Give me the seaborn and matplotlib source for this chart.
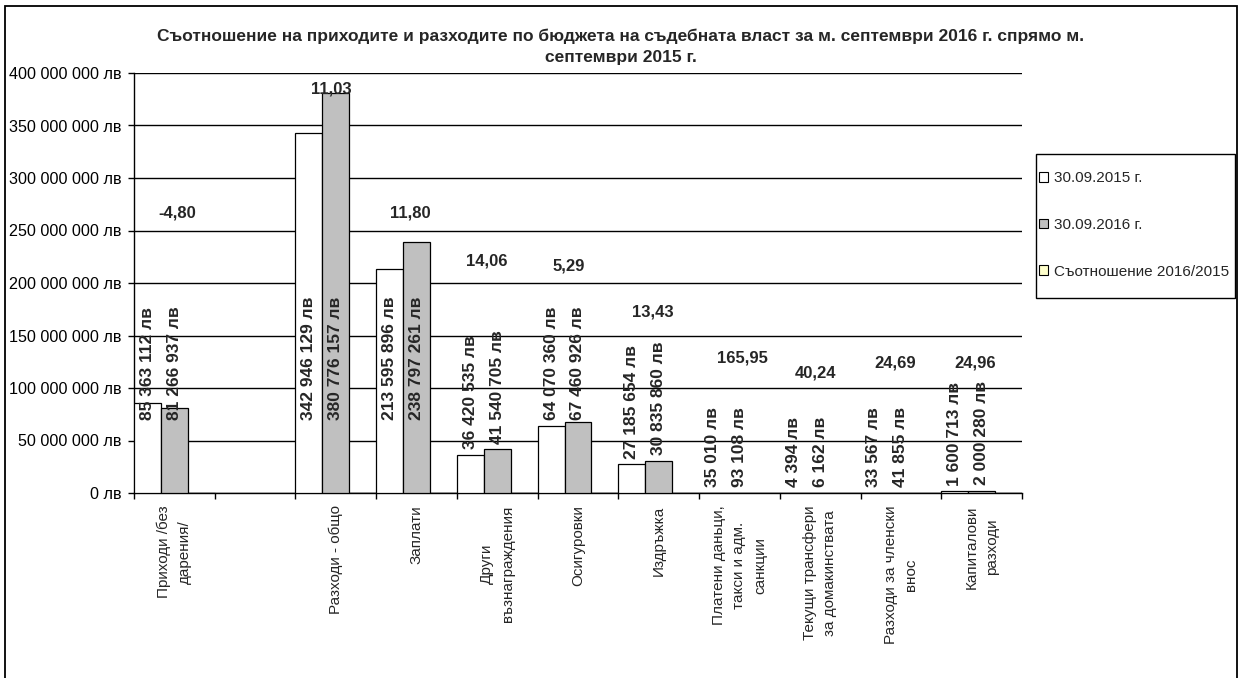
import pandas as pd
import numpy as np
import matplotlib
matplotlib.use("Agg")
import matplotlib.pyplot as plt
import seaborn as sns
from matplotlib.patches import Patch, Rectangle
from matplotlib.ticker import FuncFormatter, FixedLocator

# ---- data ----
categories = ["Приходи /без\nдарения/", " ", "Разходи - общо", "Заплати",
              "Други\nвъзнаграждения", "Осигуровки", "Издръжка",
              "Платени даньци,\nтакси и адм.\nсанкции",
              "Текущи трансфери\nза домакинствата",
              "Разходи за членски\nвнос", "Капиталови\nразходи"]
series = ["30.09.2015 г.", "30.09.2016 г.", "Съотношение 2016/2015"]
values_2015 = [85363112, None, 342946129, 213595896, 36420535, 64070360,
               27185654, 35010, 4394, 33567, 1600713]
values_2016 = [81266937, None, 380776157, 238797261, 41540705, 67460926,
               30835860, 93108, 6162, 41855, 2000280]
ratio = [-4.80, None, 11.03, 11.80, 14.06, 5.29, 13.43, 165.95, 40.24, 24.69, 24.96]

# where the ratio labels were dragged to (height in лв, shift in slot units)
ratio_label_y = [267e6, None, 385e6, 267e6, 221e6, 216e6, 172e6, 129e6, 114e6, 124e6, 124e6]
ratio_label_dx = [0.03, 0, -0.05, -0.08, -0.13, -0.12, -0.07, 0.04, -0.06, -0.07, -0.08]

title = ("Съотношение на приходите и разходите по бюджета на съдебната власт за м. септември 2016 г. спрямо м.\n"
         "септември 2015 г.")

rows = []
for cat, a, b, r in zip(categories, values_2015, values_2016, ratio):
    if a is None:
        continue
    rows.append((cat, series[0], a))
    rows.append((cat, series[1], b))
    rows.append((cat, series[2], r))
df = pd.DataFrame(rows, columns=["cat", "series", "value"])

sns.set_style("ticks")
plt.rcParams["font.family"] = ["Liberation Sans", "DejaVu Sans"]

colors = ["#FFFFFF", "#C0C0C0", "#FFFFCC"]

fig = plt.figure(figsize=(12.42, 6.78), dpi=100)
ax = fig.add_axes([134 / 1242, 1 - 493 / 678, 888 / 1242, 420 / 678])

sns.barplot(data=df, x="cat", y="value", hue="series", order=categories,
            hue_order=series, palette=colors, width=1.0, edgecolor="black",
            linewidth=0.9, saturation=1, legend=False, ax=ax, zorder=3)

ax.set_xlim(-0.5, len(categories) - 0.5)
ax.set_ylim(0, 400e6)
ax.yaxis.set_major_locator(FixedLocator(np.arange(0, 400e6 + 1, 50e6)))
ax.yaxis.set_major_formatter(FuncFormatter(lambda v, p: f"{v:,.0f}".replace(",", " ") + " лв"))
ax.yaxis.grid(True, color="black", lw=1.0)
ax.set_axisbelow(True)
ax.set_xlabel("")
ax.set_ylabel("")

for s in ["top", "right"]:
    ax.spines[s].set_visible(False)
for s in ["left", "bottom"]:
    ax.spines[s].set_color("black")
    ax.spines[s].set_linewidth(1.0)

ax.tick_params(axis="y", direction="out", length=4, width=1, color="black",
               pad=5, labelsize=11.6, labelcolor="black")
ax.set_xticks(range(len(categories)))
ax.set_xticklabels(categories, rotation=90, ha="center", va="top",
                   multialignment="center", linespacing=1.6, fontsize=11)
ax.tick_params(axis="x", which="major", length=0, pad=9)
ax.set_xticks(np.arange(-0.5, len(categories)), minor=True)
ax.tick_params(axis="x", which="minor", direction="out", length=4, width=1, color="black")

# value labels above the bars
cap = 64e6
for i, (a, b) in enumerate(zip(values_2015, values_2016)):
    if a is None:
        continue
    for x, v in [(i - 1 / 3, a), (i, b)]:
        txt = f"{v:,.0f}".replace(",", " ") + " лв"
        ax.annotate(txt, (x, min(v, cap)), xytext=(0, 4), textcoords="offset points",
                    rotation=90, ha="center", va="bottom", fontsize=12.5,
                    fontweight="bold", zorder=5)

# ratio labels
for i, r in enumerate(ratio):
    if r is None:
        continue
    ax.text(i + ratio_label_dx[i], ratio_label_y[i], f"{r:.2f}".replace(".", ","),
            ha="center", va="center", fontsize=12, fontweight="bold", zorder=5)

fig.text(0.5, 1 - 46.5 / 678, title, ha="center", va="center", fontsize=12.5,
         fontweight="bold", linespacing=1.5)

# legend: entries plus a separate frame drawn like the original box
handles = [Patch(facecolor=c, edgecolor="black", lw=0.8) for c in colors]
leg = fig.legend(handles, series, loc="center left",
                 bbox_to_anchor=(1039 / 1242, 1 - 225 / 678),
                 bbox_transform=fig.transFigure, frameon=False,
                 handlelength=0.6, handleheight=0.6,
                 handletextpad=0.4, labelspacing=2.14, borderpad=0,
                 borderaxespad=0, fontsize=11)
fig.patches.append(Rectangle((1036 / 1242, 1 - 298 / 678), 199 / 1242, 144 / 678,
                             transform=fig.transFigure, fill=False,
                             edgecolor="black", lw=1.0))

fig.patches.append(Rectangle((5 / 1242, -0.02), 1232 / 1242, 1 - 6 / 678 + 0.02,
                             transform=fig.transFigure, fill=False,
                             edgecolor="black", lw=1.3))

fig.savefig("out.png", dpi=100)
